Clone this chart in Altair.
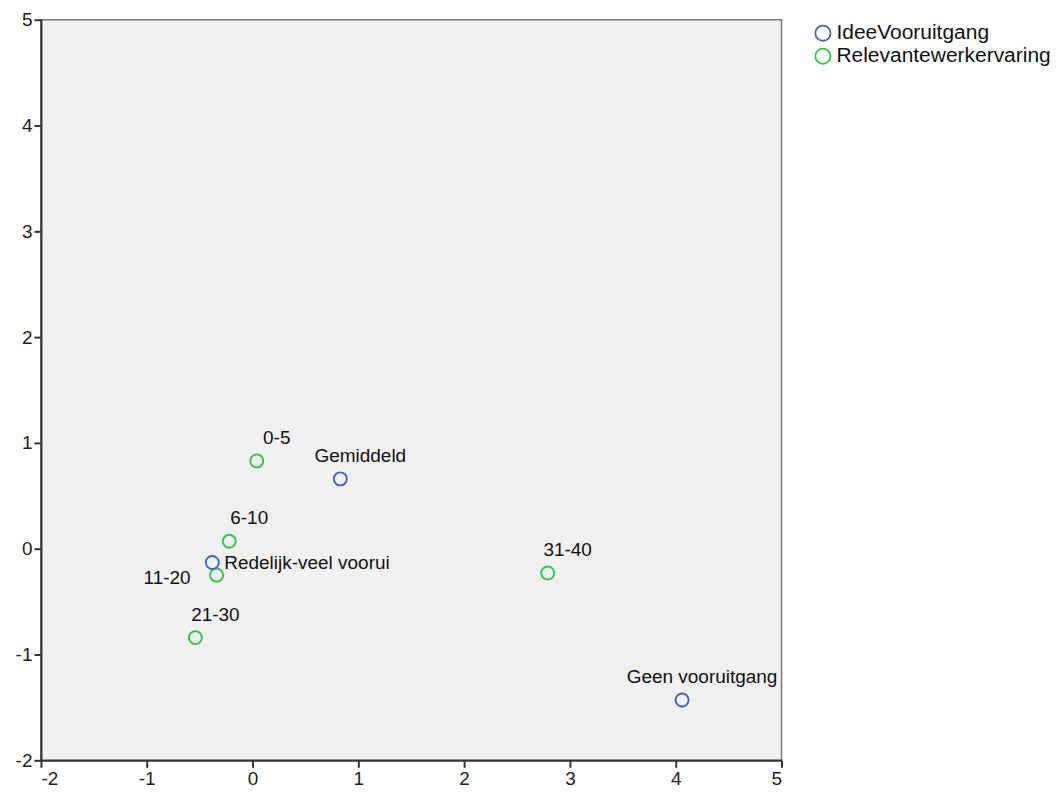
import altair as alt
import pandas as pd

labels = ["0-5", "6-10", "11-20", "21-30", "31-40",
          "Gemiddeld", "Redelijk-veel voorui", "Geen vooruitgang"]
series = ["Relevantewerkervaring"] * 5 + ["IdeeVooruitgang"] * 3
dim1 = [0.04, -0.22, -0.34, -0.54, 2.79, 0.83, -0.38, 4.06]
dim2 = [0.83, 0.07, -0.25, -0.84, -0.23, 0.66, -0.13, -1.43]

df = pd.DataFrame({"label": labels, "series": series, "x": dim1, "y": dim2})

xs = alt.Scale(domain=[-2, 5], nice=False, zero=False)
ys = alt.Scale(domain=[-2, 5], nice=False, zero=False)
ax = dict(values=list(range(-2, 6)), grid=False, title=None, labelFont="Liberation Sans",
          labelFontSize=19, labelColor="#222", domainColor="#333", domainWidth=2,
          tickColor="#333", tickWidth=2, tickSize=7, labelPadding=2,
          labelExpr="toString(datum.value)")

color = alt.Color("series:N",
                  scale=alt.Scale(domain=["IdeeVooruitgang", "Relevantewerkervaring"],
                                  range=["#4560c8", "#35c249"]),
                  legend=alt.Legend(title=None, orient="none", legendX=773, legendY=3,
                                    symbolType="circle", symbolSize=230, symbolStrokeWidth=1.8,
                                    symbolFillColor="transparent", labelLimit=0,
                                    labelFont="Liberation Sans", labelFontSize=21,
                                    labelColor="#111", rowPadding=0, labelOffset=3))

base = alt.Chart(df)
pts = base.mark_point(shape="circle", size=170, strokeWidth=1.9, filled=False, opacity=1).encode(
    x=alt.X("x:Q", scale=xs, axis=alt.Axis(**ax)),
    y=alt.Y("y:Q", scale=ys, axis=alt.Axis(**ax)),
    color=color,
)

tkw = dict(font="Liberation Sans", fontSize=19, color="#111", baseline="middle")
above = base.transform_filter(
    alt.FieldOneOfPredicate(field="label", oneOf=["0-5", "6-10", "21-30", "31-40", "Gemiddeld", "Geen vooruitgang"])
).mark_text(align="center", dx=20, dy=-23, **tkw).encode(x="x:Q", y="y:Q", text="label:N")
right = base.transform_filter(
    alt.FieldEqualPredicate(field="label", equal="Redelijk-veel voorui")
).mark_text(align="left", dx=12, dy=1, **tkw).encode(x="x:Q", y="y:Q", text="label:N")
left = base.transform_filter(
    alt.FieldEqualPredicate(field="label", equal="11-20")
).mark_text(align="right", dx=-26, dy=3, **tkw).encode(x="x:Q", y="y:Q", text="label:N")

chart = alt.layer(pts, above, right, left).properties(
    width=742, height=742,
    autosize=alt.AutoSizeParams(type="none"),
    padding={"left": 33, "top": 11, "right": 275, "bottom": 32},
    background="white",
).configure_view(fill="#f0f0f0", stroke="#777", strokeWidth=1.5)

chart.save("out.html", embed_options={"renderer": "svg", "actions": False})
